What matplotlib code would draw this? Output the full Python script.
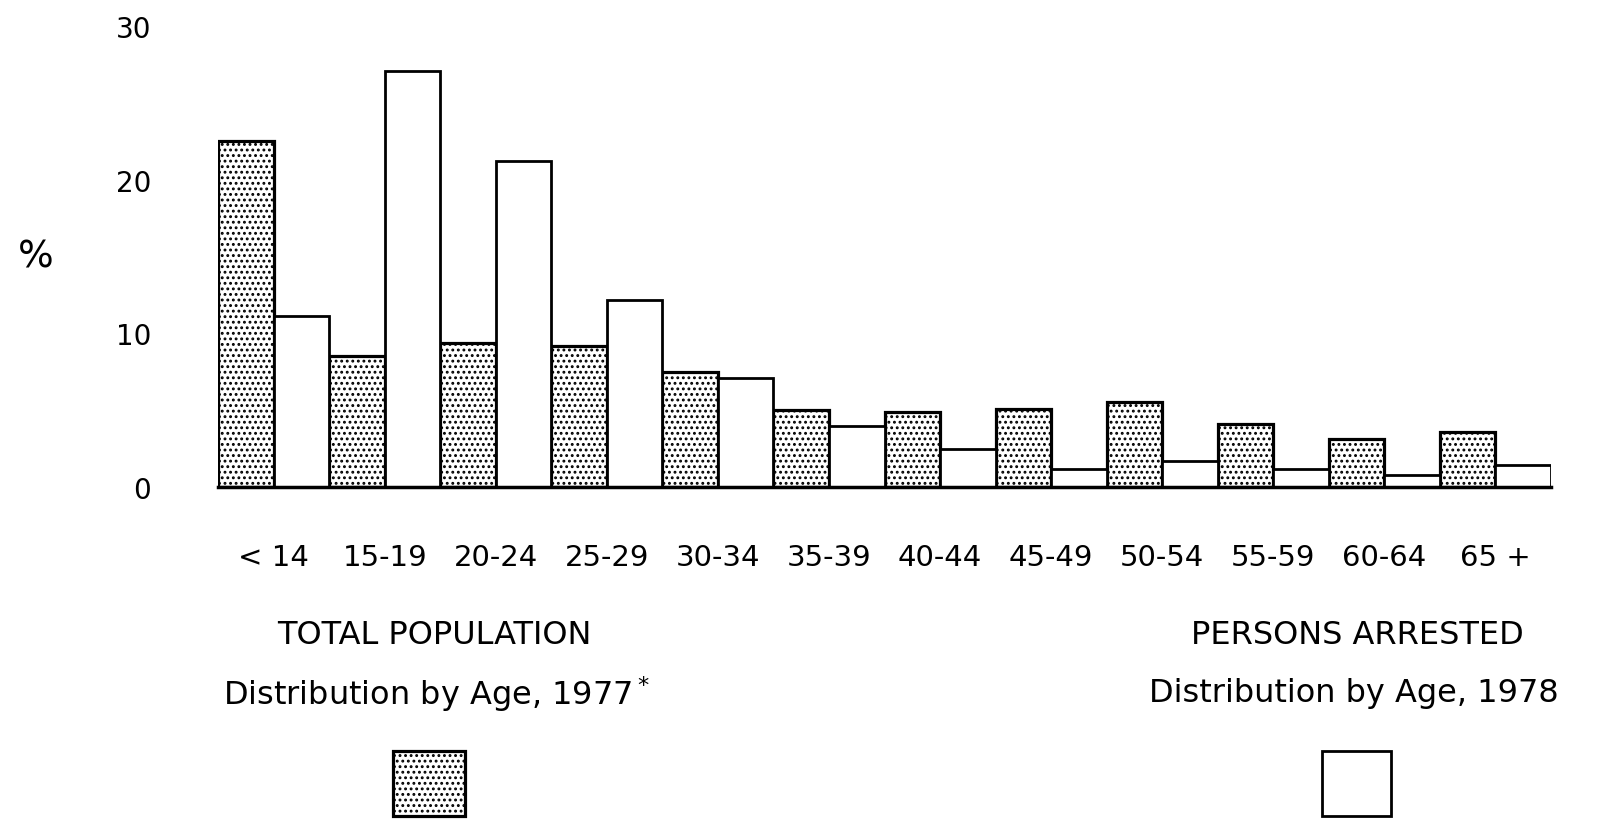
import numpy as np
import matplotlib
matplotlib.use("Agg")
import matplotlib.pyplot as plt
from matplotlib.patches import Rectangle

# Werte (Prozent)
age_groups = ["< 14", "15-19", "20-24", "25-29", "30-34", "35-39",
              "40-44", "45-49", "50-54", "55-59", "60-64", "65 +"]
population_1977 = [22.5, 8.5, 9.4, 9.2, 7.5, 5.0, 4.9, 5.1, 5.5, 4.1, 3.1, 3.6]
arrested_1978 = [11.1, 27.1, 21.2, 12.2, 7.1, 4.0, 2.5, 1.2, 1.7, 1.2, 0.8, 1.4]
y_ticks = [0, 10, 20, 30]

plt.rcParams["hatch.linewidth"] = 1.3
plt.rcParams["font.family"] = ["DejaVu Sans"]

fig = plt.figure(figsize=(16.01, 8.20), dpi=100)
ax = fig.add_axes([218 / 1601, 1 - 488 / 820, (1551 - 218) / 1601, (488 - 27) / 820])

x = np.arange(len(age_groups))
w = 0.5
ax.bar(x - w / 2, population_1977, width=w, facecolor="white", edgecolor="black",
       linewidth=2.3, hatch="...")
ax.bar(x + w / 2, arrested_1978, width=w, facecolor="white", edgecolor="black",
       linewidth=2.0)

ax.set_xlim(-0.5, len(age_groups) - 0.5)
ax.set_ylim(0, 30)
ax.set_yticks(y_ticks)
ax.set_yticklabels([str(t) for t in y_ticks], fontsize=20)
ax.set_xticks(x)
ax.set_xticklabels(age_groups, fontsize=21)
ax.tick_params(axis="y", length=0, pad=48)
ax.tick_params(axis="x", length=0, pad=40)
for s in ["top", "right", "left"]:
    ax.spines[s].set_visible(False)
ax.spines["bottom"].set_linewidth(2.5)

fig.text(36 / 1601, 1 - 258 / 820, "%", fontsize=27, ha="center", va="center")

# Legende unten
fig.text(434 / 1601, 1 - 636 / 820, "TOTAL POPULATION", fontsize=23,
         ha="center", va="center")
fig.text(436 / 1601, 1 - 694 / 820, r"Distribution by Age, 1977$^*$", fontsize=23,
         ha="center", va="center")
fig.text(1357 / 1601, 1 - 636 / 820, "PERSONS ARRESTED", fontsize=23,
         ha="center", va="center")
fig.text(1354 / 1601, 1 - 694 / 820, "Distribution by Age, 1978", fontsize=23,
         ha="center", va="center")

fig.add_artist(Rectangle((393 / 1601, 1 - 817 / 820), 72 / 1601, 65 / 820,
                         transform=fig.transFigure, facecolor="white",
                         edgecolor="black", linewidth=2.3, hatch="..."))
fig.add_artist(Rectangle((1322 / 1601, 1 - 817 / 820), 69 / 1601, 65 / 820,
                         transform=fig.transFigure, facecolor="white",
                         edgecolor="black", linewidth=2.0))

fig.savefig("out.png", dpi=100, facecolor="white")
